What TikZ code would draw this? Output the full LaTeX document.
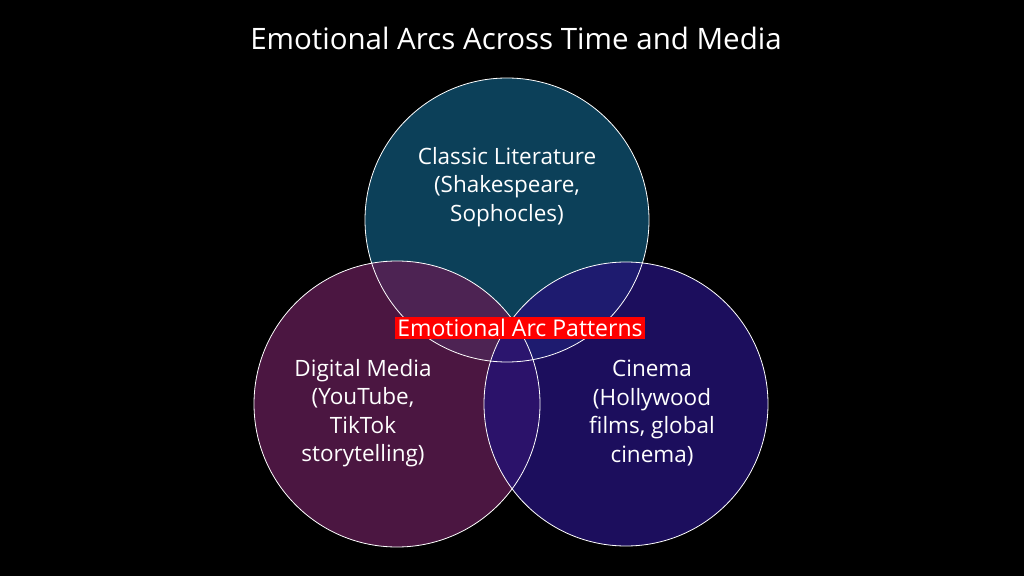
\documentclass[tikz,border=0pt]{standalone}
\usepackage{fontspec}
\setmainfont{Open Sans}
\usetikzlibrary{positioning}
\definecolor{teal1}{HTML}{0F5070}
\definecolor{plum1}{HTML}{5E1C52}
\definecolor{navy1}{HTML}{231275}
\begin{document}
\begin{tikzpicture}[x=1pt,y=1pt,
    setc/.style={fill opacity=0.8},
    txt/.style={text=white, font=\fontsize{22.5}{28.5}\selectfont, align=center}]
  \fill[black] (0,0) rectangle (1024,576);
  \useasboundingbox (0,0) rectangle (1024,576);
  % circles
  \fill[setc, fill=teal1] (507,356) circle (142);
  \fill[setc, fill=plum1] (397,172) circle (143);
  \fill[setc, fill=navy1] (626,172) circle (142);
  \draw[white, line width=0.8pt] (397,172) circle (143);
  \draw[white, line width=0.8pt] (626,172) circle (142);
  \draw[white, line width=0.8pt] (507,356) circle (142);
  % labels
  \node[text=white, font=\fontsize{29.5}{34}\selectfont] (title) at (516,538) {Emotional Arcs Across Time and Media};
  \node[txt] (lit) at (507,389) {Classic Literature\\(Shakespeare,\\Sophocles)};
  \node[txt] (dig) at (363,163) {Digital Media\\(YouTube,\\TikTok\\storytelling)};
  \node[txt] (cin) at (652,163) {Cinema\\(Hollywood\\films, global\\cinema)};
  \node[fill=red, text=white, inner sep=2pt, font=\fontsize{23}{26}\selectfont] (core) at (520,248) {Emotional Arc Patterns};
\end{tikzpicture}
\end{document}
